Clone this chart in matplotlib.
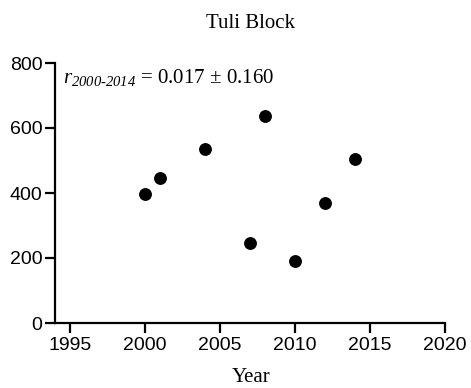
import matplotlib.pyplot as plt

# Annual values for Tuli Block
years = [2000, 2001, 2004, 2007, 2008, 2010, 2012, 2014]
values = [396, 447, 535, 245, 638, 191, 368, 504]

x_ticks = [1995, 2000, 2005, 2010, 2015, 2020]
y_ticks = [0, 200, 400, 600, 800]

plt.rcParams['mathtext.fontset'] = 'custom'
plt.rcParams['mathtext.rm'] = 'Liberation Serif'
plt.rcParams['mathtext.it'] = 'Liberation Serif:italic'
# italic font for digits in the subscript (\mathit switches digits to roman)
plt.rcParams['mathtext.sf'] = 'Liberation Serif:italic'

fig = plt.figure(figsize=(4.71, 3.88), dpi=100)
ax = fig.add_axes([55 / 471, 65 / 388, 390 / 471, 260 / 388])

ax.scatter(years, values, s=68, color='black', zorder=3, clip_on=False)

ax.set_xlim(1994, 2020)
ax.set_ylim(0, 800)
ax.set_xticks(x_ticks)
ax.set_yticks(y_ticks)

for side in ['top', 'right']:
    ax.spines[side].set_visible(False)
for side in ['left', 'bottom']:
    ax.spines[side].set_linewidth(1.6)

ax.tick_params(width=1.6, length=7, labelsize=14)
ax.tick_params(axis='x', pad=3)
ax.tick_params(axis='y', pad=2)
for lab in ax.get_xticklabels() + ax.get_yticklabels():
    lab.set_fontfamily('Liberation Sans')

fig.text(251 / 471, 1 - 23 / 388, 'Tuli Block', family='Liberation Serif',
         fontsize=15, ha='center', va='center')
fig.text(251 / 471, 1 - 377 / 388, 'Year', family='Liberation Serif',
         fontsize=15, ha='center', va='center')

ax.text(1994.55, 739, '$\\mathit{r}_{\\mathsf{2000\u20102014}}$ = 0.017 \u00b1 0.160',
        family='Liberation Serif', fontsize=15, va='baseline', ha='left')

fig.savefig('out.png', dpi=100)
